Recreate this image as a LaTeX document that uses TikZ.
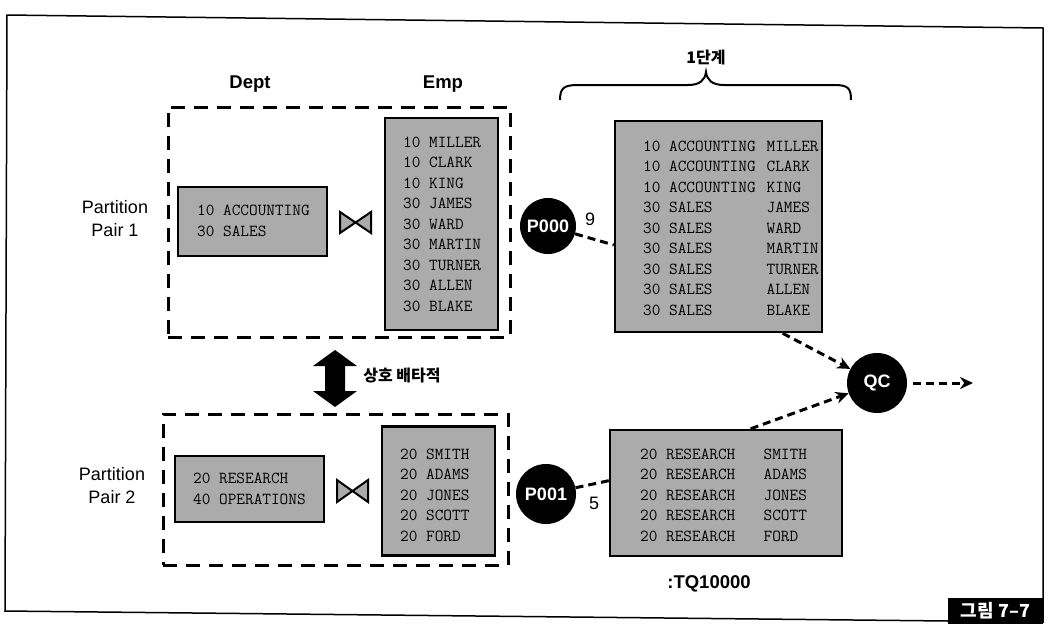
\documentclass[tikz,border=0pt]{standalone}
\usepackage{fontspec}
\setmainfont{Liberation Sans}
\newfontfamily\kr{Noto Sans CJK KR}
\usetikzlibrary{arrows.meta}
\newcommand\colA[1]{\makebox[7.35em][l]{#1}}
\begin{document}
\begin{tikzpicture}[x=1pt,y=-1pt,
 gbox/.style={draw=black,line width=2.5pt,fill=black!33,inner sep=0pt},
 mono/.style={align=left,inner sep=0pt,font=\ttfamily\fontsize{16.8}{20.5}\selectfont},
 pbox/.style={draw=black,line width=3pt,dash pattern=on 14pt off 9pt,inner sep=0pt},
 lbl/.style={font=\fontsize{18}{23}\selectfont,align=center},
 hdr/.style={font=\bfseries\fontsize{18.5}{22}\selectfont},
 num/.style={font=\fontsize{18}{18}\selectfont},
 proc/.style={circle,fill=black,text=white,inner sep=0pt,font=\bfseries\fontsize{18}{18}\selectfont},
 conn/.style={line width=3pt,dash pattern=on 8pt off 5pt},
 arr/.style={conn,-{Stealth[length=13pt,width=12pt]}},
 krb/.style={font=\kr\bfseries\fontsize{16}{18}\selectfont},
 bowtie/.style={draw=black,line width=2pt,fill=black!33,line join=miter}]
\useasboundingbox (0,0) rectangle (1056,638);
% outer frame
\draw[line width=1.5pt] (7,15) -- (1043,28) -- (1043,622) -- (5,611) -- cycle;
\node[fill=black,text=white,font=\kr\bfseries\fontsize{18}{18}\selectfont,minimum width=95pt,minimum height=26pt,inner sep=0pt] (fig) at (995.5,611) {그림 7–7};
% headers
\node[hdr] (hd) at (250,84) {Dept};
\node[hdr] (he) at (443,84) {Emp};
\node[lbl] (pp1) at (115,219) {Partition\\Pair 1};
\node[lbl] (pp2) at (112,486) {Partition\\Pair 2};
% dashed partition boxes
\node[pbox,minimum width=342pt,minimum height=230pt] (g1) at (339,222) {};
\node[pbox,minimum width=345pt,minimum height=151pt] (g2) at (335.5,489.5) {};
% partition pair 1
\node[gbox,minimum width=149pt,minimum height=69pt] (d1) at (252.5,221.5) {};
\node[mono,anchor=west] (d1t) at (197,221) {10 ACCOUNTING\\30 SALES};
\node[gbox,minimum width=113pt,minimum height=212pt] (e1) at (441.5,224) {};
\node[mono,anchor=west] (e1t) at (403,224) {10 MILLER\\10 CLARK\\10 KING\\30 JAMES\\30 WARD\\30 MARTIN\\30 TURNER\\30 ALLEN\\30 BLAKE};
\draw[bowtie] (340,212) -- (371,233) -- (371,212) -- (340,233) -- cycle;
% partition pair 2
\node[gbox,minimum width=149pt,minimum height=66pt] (d2) at (249.5,489) {};
\node[mono,anchor=west] (d2t) at (193,489) {20 RESEARCH\\40 OPERATIONS};
\node[gbox,minimum width=113pt,minimum height=129pt] (e2) at (438.5,491) {};
\node[mono,anchor=west] (e2t) at (400,495) {20 SMITH\\20 ADAMS\\20 JONES\\20 SCOTT\\20 FORD};
\draw[bowtie] (337,480) -- (368,502) -- (368,480) -- (337,502) -- cycle;
% mutual exclusion arrow
\fill (335,350) -- (357,366) -- (345,366) -- (345,391) -- (357,391) -- (335,407) -- (313,391) -- (325,391) -- (325,366) -- (313,366) -- cycle;
\node[krb] (mx) at (402,376) {상호 배타적};
% stage brace
\draw[line width=2pt] (560,100) .. controls (560,88) and (564,85) .. (578,85) -- (688,85) .. controls (700,85) and (705,80) .. (706,72) .. controls (707,80) and (712,85) .. (724,85) -- (834,85) .. controls (848,85) and (851,88) .. (851,100);
\node[krb] (st) at (706,57) {1단계};
% result boxes
\node[gbox,minimum width=207pt,minimum height=211pt] (r1) at (718.5,226.5) {};
\node[mono,anchor=west] (r1t) at (643,228) {\colA{10 ACCOUNTING}MILLER\\\colA{10 ACCOUNTING}CLARK\\\colA{10 ACCOUNTING}KING\\\colA{30 SALES}JAMES\\\colA{30 SALES}WARD\\\colA{30 SALES}MARTIN\\\colA{30 SALES}TURNER\\\colA{30 SALES}ALLEN\\\colA{30 SALES}BLAKE};
\node[gbox,minimum width=232pt,minimum height=126pt] (r2) at (726,493) {};
\node[mono,anchor=west] (r2t) at (640,495) {\colA{20 RESEARCH}SMITH\\\colA{20 RESEARCH}ADAMS\\\colA{20 RESEARCH}JONES\\\colA{20 RESEARCH}SCOTT\\\colA{20 RESEARCH}FORD};
\node[hdr] (tq) at (709,584) {:TQ10000};
% processes
\node[proc,minimum size=56pt] (p0) at (548,226) {P000};
\node[proc,minimum size=60pt] (p1) at (546,494) {P001};
\node[proc,minimum size=60pt] (qc) at (877,383) {QC};
\node[num] (n9) at (590,219) {9};
\node[num] (n5) at (594,503) {5};
\coordinate (out) at (973,383);
% connectors
\draw[conn] (p0) -- (r1.190);
\draw[conn] (p1) -- (r2.174);
\draw[arr] (r1.-59) -- (qc);
\draw[arr] (r2.69) -- (qc);
\draw[arr,shorten <=6pt] (qc) -- (out);
\end{tikzpicture}
\end{document}
